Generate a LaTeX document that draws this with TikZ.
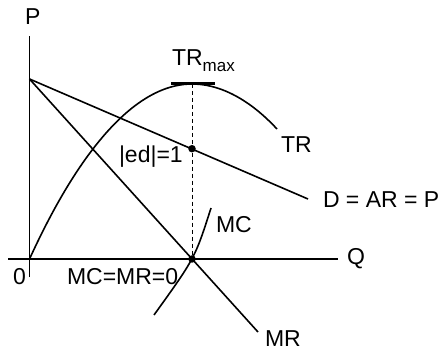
\documentclass[tikz,border=0pt]{standalone}
\usepackage{fontspec}
\setmainfont{Liberation Sans}
\usepackage{tikz}
\usetikzlibrary{positioning}

\begin{document}
\begin{tikzpicture}[
  x=1pt,y=-1pt,
  font=\fontsize{23}{26}\selectfont,
  axis/.style={line width=1.1pt,black},
  curve/.style={line width=1.6pt,black},
  lbl/.style={anchor=base west,inner sep=0pt,outer sep=0pt},
  guide/.style={line width=1pt,dash pattern=on 4pt off 3pt},
  pt/.style={circle,fill=black,inner sep=0pt,minimum size=7.5pt}]
  \useasboundingbox (0,0) rectangle (441,352);
  % axes
  \coordinate (O) at (29.5,259);
  \coordinate (ytop) at (29.5,36);
  \coordinate (ybot) at (29.5,277);
  \coordinate (xleft) at (8,259);
  \coordinate (xright) at (338,259);
  \draw[axis] (ybot) -- (ytop);
  \draw[axis] (xleft) -- (xright);
  \node[lbl] (plab) at (25,25) {P};
  \node[lbl] (qlab) at (347,265) {Q};
  \node[lbl] (zero) at (13,284) {0};
  % demand and marginal revenue
  \coordinate (A) at (29.5,79);
  \coordinate (dend) at (308,199);
  \coordinate (mrend) at (258,332);
  \draw[curve] (A) -- (dend);
  \draw[curve] (A) -- (mrend);
  \node[lbl] (dlab) at (323,207.5) {D = AR = P};
  \node[lbl] (mrlab) at (265,346.5) {MR};
  % total revenue
  \coordinate (peak) at (192,84);
  \coordinate (trend) at (277,129);
  \draw[curve] (O) parabola bend (peak) (trend);
  \coordinate (tl) at (171,84);
  \coordinate (tr) at (215,84);
  \draw[line width=3pt] (tl) -- (tr);
  \node[lbl] (trmax) at (172,66) {TR\raisebox{-6pt}{\fontsize{17}{17}\selectfont max}};
  \node[lbl] (trlab) at (281,153) {TR};
  % marginal cost
  \coordinate (mca) at (154,315);
  \coordinate (mcb) at (211,208);
  \draw[curve] (mca) .. controls (195,258) .. (mcb);
  \node[lbl] (mclab) at (216,233) {MC};
  % unit elasticity point
  \node[pt] (e1) at (192,148.7) {};
  \node[pt] (e0) at (192,259) {};
  \draw[guide] (peak) -- (e1) -- (e0);
  \node[lbl] (edlab) at (119,163) {|ed|=1};
  \node[lbl] (mcmr) at (67,284) {MC=MR=0};
\end{tikzpicture}
\end{document}
